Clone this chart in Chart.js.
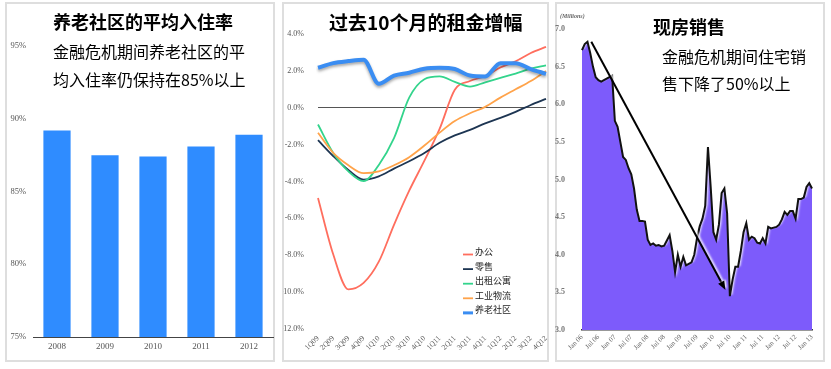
<!DOCTYPE html>
<html>
<head>
<meta charset="utf-8">
<script src="https://cdn.jsdelivr.net/npm/chart.js@4.4.0/dist/chart.umd.min.js"></script>
<style>
  body { margin: 0; width: 831px; height: 369px; overflow: hidden; position: relative; background: #fff; font-family: "Noto Sans CJK SC", sans-serif; }
  .panel { position: absolute; top: 2px; height: 360px; border: 2px solid #dedede; box-sizing: border-box; }
  canvas { position: absolute; left: 0; top: 0; }
  .txt { position: absolute; white-space: nowrap; color: #000; }
  .title { font-weight: bold; line-height: 1; }
</style>
</head>
<body>
<div class="panel" style="left:5px;width:270px"></div>
<div class="panel" style="left:282px;width:267px"></div>
<div class="panel" style="left:555px;width:270px"></div>

<canvas id="occChart" width="831" height="369"></canvas>
<canvas id="rentChart" width="831" height="369"></canvas>
<canvas id="salesChart" width="831" height="369"></canvas>

<div class="txt title" style="left:53px;top:12px;font-size:18px">养老社区的平均入住率</div>
<div class="txt" style="left:53px;top:38px;font-size:16px;line-height:27.6px">金融危机期间养老社区的平<br>均入住率仍保持在85%以上</div>

<div class="txt title" style="left:329px;top:12px;font-size:19px">过去10个月的租金增幅</div>

<div class="txt title" style="left:653px;top:17px;font-size:18px">现房销售</div>
<div class="txt" style="left:662px;top:43px;font-size:16px;line-height:26.6px">金融危机期间住宅销<br>售下降了50%以上</div>
<div class="txt" style="left:560px;top:13px;font-size:6px;font-style:italic;font-weight:bold;color:#666;font-family:'Liberation Serif',serif">(Millions)</div>

<script>
// panel 1: occupancy
const occYears = ['2008', '2009', '2010', '2011', '2012'];
const occRate = [89.2, 87.5, 87.4, 88.1, 88.9];

// panel 2: rent growth, quarterly
const quarters = ['1Q09', '2Q09', '3Q09', '4Q09', '1Q10', '2Q10', '3Q10', '4Q10',
                  '1Q11', '2Q11', '3Q11', '4Q11', '1Q12', '2Q12', '3Q12', '4Q12'];
const office = [-4.89, -7.95, -9.85, -9.5, -8.35, -6.35, -4.5, -2.87, -1.15, 0.98, 1.45, 1.72, 2.18, 2.52, 2.97, 3.3];
const retail = [-1.76, -2.62, -3.38, -3.9, -3.72, -3.3, -2.9, -2.45, -1.9, -1.5, -1.2, -0.85, -0.55, -0.22, 0.15, 0.48];
const apartment = [-0.91, -2.45, -3.45, -3.98, -3.1, -1.65, 0.55, 1.55, 1.7, 1.4, 1.15, 1.38, 1.62, 1.85, 2.12, 2.3];
const industrial = [-1.36, -2.45, -3.12, -3.55, -3.45, -3.12, -2.68, -2.05, -1.35, -0.72, -0.3, 0.05, 0.55, 1.0, 1.45, 1.99];
const seniorHousing = [2.17, 2.42, 2.53, 2.6, 1.3, 1.74, 1.9, 2.12, 2.17, 2.1, 1.75, 1.7, 2.42, 2.42, 2.1, 1.84];
const rentNames = ['办公', '零售', '出租公寓', '工业物流', '养老社区'];

// panel 3: existing home sales, monthly from Jan 06 (millions)
const monthNames = ['Jan', 'Feb', 'Mar', 'Apr', 'May', 'Jun', 'Jul', 'Aug', 'Sep', 'Oct', 'Nov', 'Dec'];
const saleYears = ['06', '07', '08', '09', '10', '11', '12', '13'];
const homeSales = [
  6.72, 6.80, 6.83, 6.68, 6.50, 6.36, 6.32, 6.30, 6.32, 6.34, 6.36, 6.38,
  5.78, 5.70, 5.50, 5.30, 5.26, 5.15, 5.07, 4.88, 4.60, 4.45, 4.45, 4.44,
  4.20, 4.13, 4.15, 4.12, 4.13, 4.11, 4.12, 4.19, 4.26, 4.05, 3.77, 4.00,
  3.84, 3.97, 3.86, 3.88, 3.90, 4.00, 4.22, 4.38, 4.48, 4.65, 5.43, 4.90,
  4.30, 4.20, 4.40, 4.82, 4.88, 4.55, 3.45, 3.67, 3.84, 3.84, 4.05, 4.30,
  4.42, 4.20, 4.24, 4.22, 4.16, 4.15, 4.22, 4.15, 4.37, 4.35, 4.36, 4.37,
  4.40, 4.47, 4.57, 4.53, 4.58, 4.58, 4.48, 4.74, 4.74, 4.76, 4.90, 4.95,
  4.88
];
// arrow from peak to trough, as [month index, value]
const arrowFrom = [3.4, 6.83];
const arrowTo = [52.4, 3.53];

const serif = "'Liberation Serif', serif";

const saleMonths = [];
saleYears.forEach(function (y) {
    monthNames.forEach(function (m) {
        if (saleMonths.length < homeSales.length) {
            saleMonths.push(m + ' ' + y);
        }
    });
});

function fixWidth(w) { return function (scale) { scale.width = w; }; }
function fixHeight(h) { return function (scale) { scale.height = h; }; }

// ---- chart 1
new Chart(document.getElementById('occChart'), {
    type: 'bar',
    data: {
        labels: occYears,
        datasets: [{
            data: occRate,
            backgroundColor: '#2f8cff',
            barPercentage: 0.567,
            categoryPercentage: 1
        }]
    },
    options: {
        responsive: false,
        animation: false,
        layout: { padding: { left: 3, right: 558, top: 46, bottom: 12 } },
        plugins: { legend: { display: false }, tooltip: { enabled: false } },
        scales: {
            x: {
                grid: { display: false, drawTicks: false },
                border: { display: true, color: '#444', width: 1 },
                ticks: { color: '#555', font: { family: serif, size: 9 }, padding: 4 },
                afterFit: fixHeight(20)
            },
            y: {
                min: 75, max: 95,
                grid: { display: false, drawTicks: false },
                border: { display: false },
                ticks: {
                    stepSize: 5, padding: 7, color: '#555',
                    font: { family: serif, size: 8.5 },
                    callback: function (v) { return v + '%'; }
                },
                afterFit: fixWidth(30)
            }
        }
    }
});

// ---- chart 2
const shadowPlugin = {
    id: 'lineShadow',
    beforeDatasetDraw: function (chart, args, opts) {
        const s = opts.sets && opts.sets[args.index];
        if (!s) return;
        const ctx = chart.ctx;
        ctx.save();
        ctx.shadowColor = s.color;
        ctx.shadowBlur = s.blur;
        ctx.shadowOffsetX = s.dx;
        ctx.shadowOffsetY = s.dy;
    },
    afterDatasetDraw: function (chart, args, opts) {
        const s = opts.sets && opts.sets[args.index];
        if (!s) return;
        chart.ctx.restore();
    }
};

const rentLegend = {
    id: 'rentLegend',
    afterDraw: function (chart, args, opts) {
        const ctx = chart.ctx;
        const a = chart.chartArea;
        ctx.save();
        ctx.font = '9px "Noto Sans CJK SC"';
        ctx.textBaseline = 'middle';
        chart.data.datasets.forEach(function (ds, i) {
            const y = a.top + opts.top + i * opts.step;
            const x = a.left + opts.left;
            ctx.strokeStyle = ds.borderColor;
            ctx.lineWidth = i === 4 ? 3 : 1.8;
            ctx.beginPath();
            ctx.moveTo(x, y + 3);
            ctx.lineTo(x + 10, y + 3);
            ctx.stroke();
            ctx.fillStyle = '#222';
            ctx.fillText(ds.label, x + 12, y);
        });
        ctx.restore();
    }
};

const rentSeries = [office, retail, apartment, industrial, seniorHousing];
const rentColors = ['#ff6e5e', '#1d3552', '#33d48c', '#ffa34a', '#3a8df2'];

new Chart(document.getElementById('rentChart'), {
    type: 'line',
    data: {
        labels: quarters,
        datasets: rentSeries.map(function (d, i) {
            return {
                label: rentNames[i],
                data: d,
                borderColor: rentColors[i],
                borderWidth: i === 4 ? 4 : 1.8,
                pointRadius: 0,
                cubicInterpolationMode: 'monotone',
                fill: false,
                order: 4 - i
            };
        })
    },
    options: {
        responsive: false,
        animation: false,
        layout: { padding: { left: 283, right: 285, top: 34, bottom: 10 } },
        plugins: {
            legend: { display: false },
            tooltip: { enabled: false },
            lineShadow: { sets: { 4: { color: 'rgba(0,0,0,0.35)', blur: 3, dx: 0, dy: 2 } } },
            rentLegend: { left: 145, top: 217.5, step: 14.6 }
        },
        scales: {
            x: {
                grid: { display: false, drawTicks: false },
                border: { display: false },
                ticks: {
                    autoSkip: false, minRotation: 45, maxRotation: 45,
                    color: '#555', font: { family: serif, size: 7.5 }, padding: 5
                },
                afterFit: fixHeight(30)
            },
            y: {
                min: -12, max: 4,
                border: { display: false },
                grid: {
                    drawTicks: false,
                    lineWidth: 1,
                    color: function (c) { return c.tick && c.tick.value === 0 ? '#555' : 'rgba(0,0,0,0)'; }
                },
                ticks: {
                    stepSize: 2, padding: 14, color: '#555',
                    font: { family: serif, size: 8 },
                    callback: function (v) { return v.toFixed(1) + '%'; }
                },
                afterFit: fixWidth(35)
            }
        }
    },
    plugins: [shadowPlugin, rentLegend]
});

// ---- chart 3
const arrowPlugin = {
    id: 'arrow',
    afterDatasetsDraw: function (chart) {
        const xs = chart.scales.x, ys = chart.scales.y;
        const x1 = xs.getPixelForValue(arrowFrom[0]), y1 = ys.getPixelForValue(arrowFrom[1]);
        const x2 = xs.getPixelForValue(arrowTo[0]), y2 = ys.getPixelForValue(arrowTo[1]);
        const ang = Math.atan2(y2 - y1, x2 - x1);
        const ctx = chart.ctx;
        ctx.save();
        ctx.shadowColor = 'rgba(255,255,255,0.9)';
        ctx.shadowBlur = 2;
        ctx.shadowOffsetX = 1.5;
        ctx.shadowOffsetY = -1;
        ctx.strokeStyle = '#000';
        ctx.fillStyle = '#000';
        ctx.lineWidth = 2;
        ctx.beginPath();
        ctx.moveTo(x1, y1);
        ctx.lineTo(x2 - 6 * Math.cos(ang), y2 - 6 * Math.sin(ang));
        ctx.stroke();
        ctx.beginPath();
        ctx.moveTo(x2, y2);
        ctx.lineTo(x2 - 9 * Math.cos(ang) + 3.5 * Math.sin(ang), y2 - 9 * Math.sin(ang) - 3.5 * Math.cos(ang));
        ctx.lineTo(x2 - 9 * Math.cos(ang) - 3.5 * Math.sin(ang), y2 - 9 * Math.sin(ang) + 3.5 * Math.cos(ang));
        ctx.closePath();
        ctx.fill();
        ctx.restore();
    }
};

new Chart(document.getElementById('salesChart'), {
    type: 'line',
    data: {
        labels: saleMonths,
        datasets: [{
            data: homeSales,
            borderColor: '#111',
            borderWidth: 2,
            backgroundColor: '#7d5bfb',
            fill: 'start',
            pointRadius: 0,
            tension: 0
        }]
    },
    options: {
        responsive: false,
        animation: false,
        layout: { padding: { left: 552, right: 19, top: 29, bottom: 9 } },
        plugins: {
            legend: { display: false },
            tooltip: { enabled: false },
            lineShadow: { sets: { 0: { color: 'rgba(255,255,255,0.85)', blur: 2, dx: 1.5, dy: -1.5 } } }
        },
        scales: {
            x: {
                grid: { display: false, drawTicks: false },
                border: { display: true, color: '#333', width: 1.5 },
                ticks: {
                    autoSkip: false, minRotation: 45, maxRotation: 45,
                    color: '#666', font: { family: serif, size: 7 }, padding: 3,
                    callback: function (v, i) { return i % 6 === 0 ? saleMonths[i] : ''; }
                },
                afterFit: fixHeight(30)
            },
            y: {
                min: 3, max: 7,
                grid: { display: false, drawTicks: false },
                border: { display: false },
                ticks: {
                    stepSize: 0.5, padding: 17, color: '#777',
                    font: { family: serif, size: 8, weight: 'bold' },
                    callback: function (v) { return v.toFixed(1); }
                },
                afterFit: fixWidth(30)
            }
        }
    },
    plugins: [shadowPlugin, arrowPlugin]
});
</script>
</body>
</html>
